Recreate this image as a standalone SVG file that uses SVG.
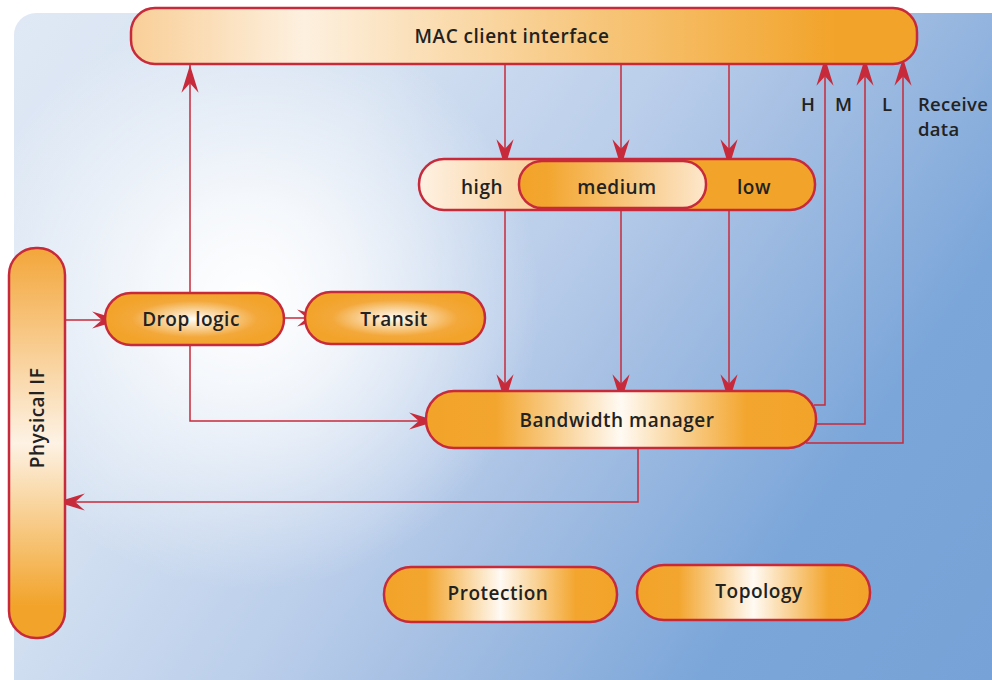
<svg xmlns="http://www.w3.org/2000/svg" width="992" height="680" viewBox="0 0 992 680">
<defs>
<linearGradient id="bg" gradientUnits="userSpaceOnUse" x1="0" y1="0" x2="992" y2="680">
<stop offset="0" stop-color="#e0e9f5"/>
<stop offset="0.3" stop-color="#d3e0f1"/>
<stop offset="0.5" stop-color="#b9cdea"/>
<stop offset="0.6" stop-color="#a5bfe3"/>
<stop offset="0.8" stop-color="#7ba6d9"/>
<stop offset="1" stop-color="#77a2d7"/>
</linearGradient>
<radialGradient id="glow" gradientUnits="userSpaceOnUse" cx="250" cy="300" r="290">
<stop offset="0" stop-color="#ffffff" stop-opacity="1"/>
<stop offset="0.35" stop-color="#ffffff" stop-opacity="0.75"/>
<stop offset="1" stop-color="#ffffff" stop-opacity="0"/>
</radialGradient>
<linearGradient id="gMac" x1="0" y1="0" x2="1" y2="0">
<stop offset="0" stop-color="#f9cf98"/>
<stop offset="0.22" stop-color="#fdf0df"/>
<stop offset="0.9" stop-color="#f2a329"/>
<stop offset="1" stop-color="#f2a329"/>
</linearGradient>
<linearGradient id="gPhy" x1="0" y1="0" x2="0" y2="1">
<stop offset="0" stop-color="#f3a63a"/>
<stop offset="0.5" stop-color="#fdf2e4"/>
<stop offset="0.92" stop-color="#f2a329"/>
<stop offset="1" stop-color="#f2a329"/>
</linearGradient>
<linearGradient id="gPill" x1="0" y1="0" x2="1" y2="0">
<stop offset="0" stop-color="#f2a329"/>
<stop offset="0.18" stop-color="#f3a62f"/>
<stop offset="0.5" stop-color="#fffaf3"/>
<stop offset="0.82" stop-color="#f3a62f"/>
<stop offset="1" stop-color="#f2a329"/>
</linearGradient>
<radialGradient id="gPillR" cx="0.5" cy="0.5" r="0.5">
<stop offset="0" stop-color="#fffdf9"/>
<stop offset="0.7" stop-color="#f3a83a"/>
<stop offset="1" stop-color="#f2a329"/>
</radialGradient>
<linearGradient id="gOuter" x1="0" y1="0" x2="1" y2="0">
<stop offset="0" stop-color="#fef1e2"/>
<stop offset="0.3" stop-color="#f9d09b"/>
<stop offset="0.7" stop-color="#f2a329"/>
<stop offset="1" stop-color="#f2a329"/>
</linearGradient>
<linearGradient id="gMed" x1="0" y1="0" x2="1" y2="0">
<stop offset="0" stop-color="#f2a329"/>
<stop offset="0.15" stop-color="#f3a62f"/>
<stop offset="1" stop-color="#fde7cc"/>
</linearGradient>
<marker id="ah" markerWidth="30" markerHeight="20" refX="0" refY="0" viewBox="-27 -9 28 18" orient="auto" markerUnits="userSpaceOnUse">
<path d="M0,0 L-26,-8 L-17,0 L-26,8 Z" fill="#c72a3a"/>
</marker>
<style>
.box{stroke:#c72a3a;stroke-width:2.5}
.lbl{font-family:"Open Sans","Noto Sans","Liberation Sans",sans-serif;font-weight:600;font-size:19px;letter-spacing:0.5px;fill:#222;text-anchor:middle}
.side{font-family:"Open Sans","Noto Sans","Liberation Sans",sans-serif;font-weight:600;font-size:18.5px;letter-spacing:0.3px;fill:#222}
.c{fill:none;stroke:#c72a3a;stroke-width:1.5}
</style>
</defs>
<rect x="14" y="13" width="1000" height="700" rx="22" fill="url(#bg)"/>
<rect x="14" y="13" width="1000" height="700" rx="22" fill="url(#glow)"/>

<g id="connectors">
<path class="c" d="M190,293 V65" marker-end="url(#ah)"/>
<path class="c" d="M190,345 V421 H437" marker-end="url(#ah)"/>
<path class="c" d="M65,320 H120" marker-end="url(#ah)"/>
<path class="c" d="M284,318 H325" marker-end="url(#ah)"/>
<path class="c" d="M505,64 V167" marker-end="url(#ah)"/>
<path class="c" d="M621,64 V167" marker-end="url(#ah)"/>
<path class="c" d="M729,64 V167" marker-end="url(#ah)"/>
<path class="c" d="M505,210 V402" marker-end="url(#ah)"/>
<path class="c" d="M621,210 V402" marker-end="url(#ah)"/>
<path class="c" d="M729,210 V402" marker-end="url(#ah)"/>
<path class="c" d="M814,405 H825 V58" marker-end="url(#ah)"/>
<path class="c" d="M816,424 H865 V58" marker-end="url(#ah)"/>
<path class="c" d="M806,443 H903 V58" marker-end="url(#ah)"/>
<path class="c" d="M638,448 V502 H57" marker-end="url(#ah)"/>
</g>

<g id="mac">
<rect class="box" x="131" y="8" width="786" height="56" rx="24" fill="url(#gMac)"/>
<text class="lbl" x="512" y="43">MAC client interface</text>
</g>
<g id="priority">
<rect class="box" x="419" y="159" width="396" height="51" rx="25" fill="url(#gOuter)"/>
<text class="lbl" x="482" y="194">high</text>
<text class="lbl" x="754" y="194">low</text>
</g>
<g id="medium">
<rect class="box" x="519" y="161" width="187" height="47" rx="23" fill="url(#gMed)"/>
<text class="lbl" x="617" y="194">medium</text>
</g>
<g id="physical">
<rect class="box" x="9" y="248" width="56" height="390" rx="27" fill="url(#gPhy)"/>
<text class="lbl" transform="translate(44,418) rotate(-90)">Physical IF</text>
</g>
<g id="droplogic">
<rect class="box" x="105" y="293" width="179" height="52" rx="26" fill="url(#gPillR)"/>
<text class="lbl" x="191" y="326">Drop logic</text>
</g>
<g id="transit">
<rect class="box" x="305" y="292" width="180" height="52" rx="26" fill="url(#gPillR)"/>
<text class="lbl" x="394" y="326">Transit</text>
</g>
<g id="bandwidth">
<rect class="box" x="426" y="391" width="390" height="57" rx="28" fill="url(#gPill)"/>
<text class="lbl" x="617" y="427">Bandwidth manager</text>
</g>
<g id="protection">
<rect class="box" x="384" y="567" width="233" height="55" rx="27" fill="url(#gPill)"/>
<text class="lbl" x="498" y="600">Protection</text>
</g>
<g id="topology">
<rect class="box" x="637" y="565" width="233" height="55" rx="27" fill="url(#gPill)"/>
<text class="lbl" x="759" y="598">Topology</text>
</g>
<g id="labels">
<text class="side" x="801" y="111">H</text>
<text class="side" x="835" y="111">M</text>
<text class="side" x="882" y="111">L</text>
<text class="side" x="918" y="111">Receive</text>
<text class="side" x="918" y="136">data</text>
</g>
</svg>
